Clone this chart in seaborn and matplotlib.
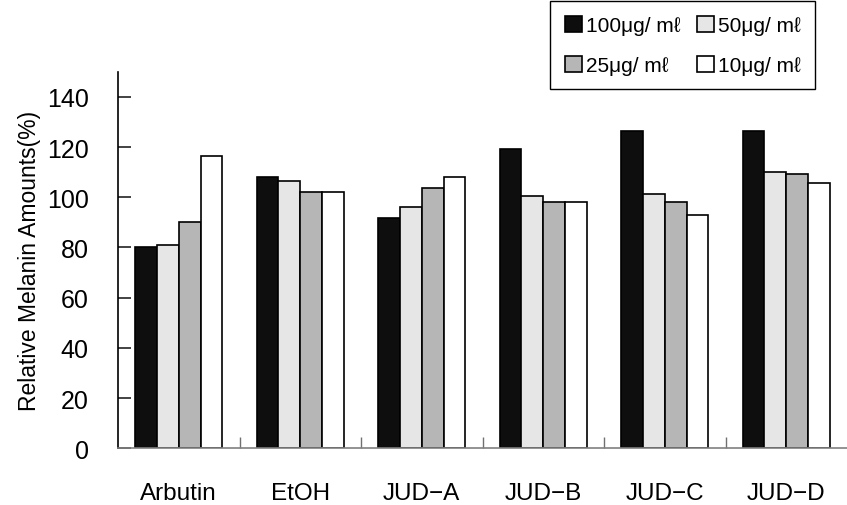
import numpy as np
import pandas as pd
import matplotlib
matplotlib.use('Agg')
import matplotlib.pyplot as plt
import seaborn as sns

# Data
groups = ['Arbutin', 'EtOH', 'JUD−A', 'JUD−B', 'JUD−C', 'JUD−D']
concs = ['100μg/ mℓ', '50μg/ mℓ', '25μg/ mℓ', '10μg/ mℓ']
val_100 = [80.0, 108.2, 91.6, 119.3, 126.2, 126.2]
val_50 = [81.1, 106.5, 96.1, 100.5, 101.3, 110.0]
val_25 = [90.0, 102.0, 103.5, 98.2, 98.2, 109.4]
val_10 = [116.3, 102.0, 108.0, 98.2, 93.1, 105.6]
y_ticks = [0, 20, 40, 60, 80, 100, 120, 140]
bar_colors = ['#0e0e0e', '#e6e6e6', '#b6b6b6', '#ffffff']

df = pd.DataFrame({
    'group': groups * 4,
    'conc': [c for c in concs for _ in groups],
    'value': val_100 + val_50 + val_25 + val_10,
})

# plain matplotlib defaults, custom font list
plt.rcParams['font.family'] = ['Liberation Sans', 'DejaVu Sans']
plt.rcParams['axes.grid'] = False
plt.rcParams['ytick.left'] = True
plt.rcParams['ytick.direction'] = 'in'
plt.rcParams['ytick.minor.visible'] = False

fig = plt.figure(figsize=(8.47, 5.06), dpi=100)
ax = fig.add_axes([118 / 847, 1 - 449.3 / 506, 1 - 118 / 847, (449.3 - 72.7) / 506])

sns.barplot(data=df, x='group', y='value', hue='conc', hue_order=concs,
            order=groups, palette=bar_colors, edgecolor='black',
            linewidth=1.2, width=0.72, gap=0, saturation=1, ax=ax)

handles, labels = ax.get_legend_handles_labels()
ax.get_legend().remove()

ax.set_ylim(0, 150)
ax.set_xlim(-0.5, 5.5)
ax.set_yticks(y_ticks)
# same positions as minor ticks too, so the inward marks are drawn for sure
ax.set_yticks(y_ticks, minor=True)
ax.set_xticks(range(len(groups)))
ax.set_xticks(np.arange(0.5, 5.0, 1.0), minor=True)
ax.tick_params(axis='x', which='major', bottom=True, length=0, pad=24,
               labelsize=17.5)
ax.tick_params(axis='x', which='minor', bottom=True, direction='in',
               length=8, width=1, color='#707070')
ax.tick_params(axis='y', which='both', left=True, direction='in', length=9,
               width=1.2, color='#222222', pad=21, labelsize=18)
ax.tick_params(axis='y', which='minor', labelleft=False)
ax.set_xlabel('')
ax.set_ylabel('Relative Melanin Amounts(%)', fontsize=16.5, labelpad=4)

for s in ['top', 'right']:
    ax.spines[s].set_visible(False)
ax.spines['left'].set_color('black')
ax.spines['left'].set_linewidth(1.2)
ax.spines['bottom'].set_color('#808080')
ax.spines['bottom'].set_linewidth(1.2)

# legend: rows 100/50 and 25/10
order = [0, 2, 1, 3]
leg = fig.legend([handles[i] for i in order], [labels[i] for i in order],
                 loc='upper right', bbox_to_anchor=(815 / 847, 1 - 2 / 506),
                 borderaxespad=0, ncol=2, fontsize=15, frameon=True,
                 fancybox=False, edgecolor='black', handlelength=0.8,
                 handleheight=0.8, handletextpad=0.2, columnspacing=0.8,
                 labelspacing=1.0, borderpad=0.7)
leg.get_frame().set_linewidth(1.0)
leg.get_frame().set_alpha(1)

fig.savefig('out.png', dpi=100)
